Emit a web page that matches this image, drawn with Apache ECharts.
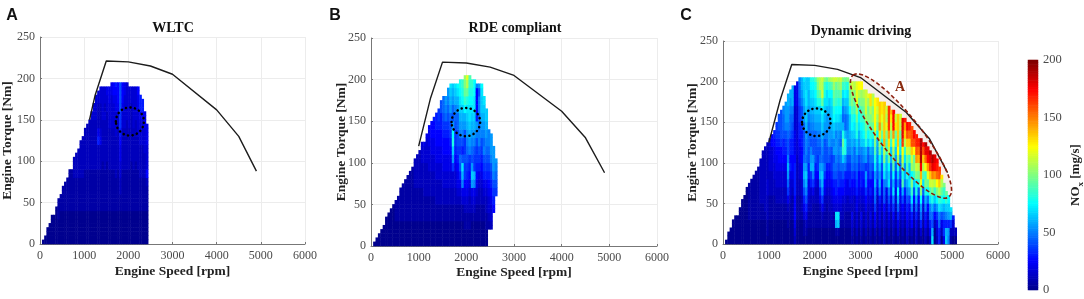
<!DOCTYPE html>
<html><head><meta charset="utf-8">
<style>html,body{margin:0;padding:0;background:#fff}#c{width:1084px;height:299px;filter:blur(.35px)}</style>
<script src="https://cdn.jsdelivr.net/npm/echarts@6/dist/echarts.min.js"></script></head>
<body><div id="c"></div>
<script>
// Level code of a cell: position in LEVELS x 5 mg/s. Each column string reads bottom-up in 10 Nm bands;
// the last character continues to the column top, "." is an empty band.
const LEVELS = "0123456789abcdefghijklmnopqrstuvwxyzABCD";
const rpmStep = 50, nmStep = 5;
const barLevels = [0,2,4,6,8,10,12,14,16,18,20,22,24,26,28,30,32,34,36,38,40,42,44,46,48,50,52,54,56,58,60,62,64,66,68,70,72,74,76,78,80,82,84,86,88,90,92,94,96,98,100,102,104,106,108,110,112,114,116,118,120,122,124,126,128,130,132,134,136,138,140,142,144,146,148,150,152,154,156,158,160,162,164,166,168,170,172,174,176,178,180,182,184,186,188,190,192,194,196,198,200];
const barColumns = [0,1,2,3,4];

const startA = 50;
const topsA = [5,10,20,25,35,35,45,55,60,70,75,80,90,90,105,110,115,125,130,140,145,150,160,170,180,185,190,190,190,190,190,195,195,195,195,195,195,195,195,190,190,190,190,190,180,175,160,145];
const colsA = ["0","0","0","0","0","00","000","0001","00001","000011","000011","0000111","00001111","00001111","000011112","0000111122","00001111222","000011112222","000011112222","0000111112222","00001111122222","000011111222222","0000111112222223","00001111122222233","000011111222222333","0000111112226422233","0000111112224322233","0000111111222223333","0000111112222223233","0000111111222222334","0000111112222233344","00001111122222333344","0000111112222233345","00001111222223334456","0000111112222233455","00001122334456778888","0000111112222233455","00001111122222333344","00001111122222233333","0000111112222233333","0000111111222222233","0000111112222233333","0000111111222223333","0000111112222333445","000011112222333466","00001111222233346","0000111122233344","00001112533344"];

const startB = 50;
const topsB = [5,10,15,20,25,35,40,45,50,55,60,70,75,80,85,90,95,105,110,115,125,125,135,145,150,155,160,165,175,180,180,190,195,195,195,195,200,200,205,205,205,200,200,195,195,195,180,165,140,135,120,105];
const colsB = ["0","0","0","0","0","00","00","000","000","0001","0001","00011","00011","000111","000111","0001111","0001111","00011112","00011112","000111122","000111122233","0001112222334","00011122223334","000111222333445","000111222334455","0001112223344556","0001122233445566","00011222334455677","000112223344556688","000112233445567899","0001122334455679ab","00011223344556789ab","0001122334456789bcde","0001122337bdgfb89bcd","0001122334567789acde","0001123445678899bcef","0001123468978abcdefg","0001134ace868abcdfgh","00112345778778bcfhjkl","001123456789abcdegjmo","00112234567abcdeefghi","0001234bdb89abcdefgh","0001234ac778abcdeeff","0001123456778ab6555a","000112234678aa99aa8b","0001122345678abcddef","00011234678a9abcde","001122346789abcd","..1233456789aa","..23345678ab","....5678abbb","......789ab"];

const startC = 50;
const topsC = [5,15,20,30,35,35,45,55,60,70,75,80,85,90,95,105,115,120,125,130,135,140,150,160,165,170,175,185,190,195,195,200,205,205,205,205,205,205,205,205,205,205,205,205,205,205,205,205,205,205,205,205,205,205,200,200,200,200,200,200,190,190,185,185,185,180,180,175,175,175,170,170,165,165,160,160,160,155,155,150,150,145,140,135,130,130,125,125,120,115,110,110,105,95,85,75,65,60,45,35,20];
const colsC = ["0","0","0","0","0","0","00","00","000","000","0001","00011","000111","000111","000111","0001122","0001122","00012222","0112223322","0001112223333","00011122233355","000111223344566","000112233445677","0001122334556788","000112233455788","0001122334566899a","00011223345678abb","00112479bca889abbcc","0001123346566899abc","0001112345566789acc","234555666654443334","0001112222233333344","00011122334456677899a","00012233445566788abcc","0113468acb98889bbcdde","012468acdb9aabcddeedd","001123446688999abccdd","001122367cba89abcdefg","00111247acb889abcdefg","00111224568889bcdefgi","0011122357789abcdgikl","00112469cb989abcdgjmm","001247acdb9abcdefjnmn","0011224579888abcdeghk","0011123456889abbceegjl","001122345689bbabcdfhlo","001223456778abcddefimp","00113456898bacdfgijlnp","01ce346689abbacefhijnp","01de3457789aabcefgikmo","0012345679ab9acdfhjlnp","0012235689dhjgc9acehkn","0011234569bgfc99bdfhjm","00112244678abbaacdegkn","00112346678abcddfijl","1234234579abcdfgikln","001122456899bdefhikm","1233446789acdghjlo","00112345578abcefgjmp","12342346689adefhiklp","0011234568abdfghjkmn","1233457ab7bcgijln","001123456789dfhkjlo","1234346589acfhjkmq","0011234568abdgjlkm","124579acbegikmp","0011224689abcfjlnq","123446acbdfjlqtr","0011234578bdgjmoq","2234589aegkmsr","0011234abcdhikomn","123468aedfjmqtx","0011346789cdhknqs","12357aecfikmptz","0011234679bdgjqns","13469cfadglpr","0012345689begjmn","123458cigknpxA","0012346acbehmrty","234568acgijnrwz","012347beddhmrvy","1256aehkflnrw","0012358dhkjpwzA","23469cgfkntwy","0012358gjmsvyB","1369bfkoszCC","0012369eimrwz","2356acgkhpvAC","012359fjotzAC","2469aeinrxAC","ec89cgknuACB","00259dhmtzA","2347bfkpvyz","669aehmrwx","0248dgjmqs","4769cfhkm","dc6adhjl","ab6bdfg","127cef","0236b","024",".4"];

const loadSpeedA = [1120,1250,1500,2000,2500,3000,4000,4500,4900];
const loadTorqueA = [150,180,221,220,215,205,162,130,88];
const loadSpeedB = [1000,1250,1500,2000,2500,3000,4000,4500,4900];
const loadTorqueB = [120,178,221,220,215,205,162,130,88];
const loadSpeedC = [1000,1250,1500,2000,2500,3000,4000,4500,4900];
const loadTorqueC = [125,178,221,220,215,205,162,130,88];

// [centre rpm, centre Nm, radius rpm, radius Nm]
const circleA = [2035,148,317,17];
const circleB = [1990,149,300,17];
const circleC = [2036,150,312,17];
// tips of the region A ellipse [rpm, Nm, rpm, Nm] and its width ratio
const regionA = [2836,208,4931,58,0.26];
const regionALabel = [3862,193,"A"];

const serif = '"Liberation Serif","Times New Roman",serif';
const bins = n => Array.from({length:n},(_,i)=>i);
const heat = (start,tops,cols) => {
  const out = [];
  cols.forEach((s,c)=>{
    const xi = (start + c*rpmStep)/rpmStep;
    for(let y=0; y<tops[c]; y+=nmStep){
      const ch = s[Math.min(Math.floor(y/10), s.length-1)];
      if(ch !== '.') out.push([xi, y/nmStep, LEVELS.indexOf(ch)*5]);
    }
  });
  return out;
};
const panels = [
 {name:'WLTC', letter:'A', lx:12, l:40, w:265, t:37, h:207, tx:173, ty:21, gy:25, ng:21, data:heat(startA,topsA,colsA), sp:loadSpeedA, tq:loadTorqueA, c:circleA},
 {name:'RDE compliant', letter:'B', lx:335, l:371, w:286, t:38, h:208, tx:515, ty:21, gy:22, ng:20, data:heat(startB,topsB,colsB), sp:loadSpeedB, tq:loadTorqueB, c:circleB},
 {name:'Dynamic driving', letter:'C', lx:686, l:723, w:275, t:41, h:203, tx:861, ty:24, gy:23, ng:21, data:heat(startC,topsC,colsC), sp:loadSpeedC, tq:loadTorqueC, c:circleC}
];
const noGroup = v => String(v);
const grid=[],xAxis=[],yAxis=[],series=[],title=[];
panels.forEach((p,i)=>{
  grid.push({left:p.l,top:p.t,width:p.w,height:p.h,outerBoundsMode:'none'});
  const lab={fontFamily:serif,fontSize:12,color:'#4a4a4a',formatter:noGroup};
  const nm={fontFamily:serif,fontSize:13.5,fontWeight:'bold',color:'#222'};
  const line={show:true,lineStyle:{color:'#777',width:1}};
  const split={show:true,lineStyle:{color:'#ececec',width:1}};
  xAxis.push({type:'value',gridIndex:i,min:0,max:6000,interval:1000,name:'Engine Speed [rpm]',nameLocation:'middle',nameGap:p.ng,nameMoveOverlap:false,nameTextStyle:nm,
    axisLabel:Object.assign({margin:6},lab),axisLine:line,axisTick:{show:true,inside:true,length:2,lineStyle:{color:'#777'}},splitLine:split});
  yAxis.push({type:'value',gridIndex:i,min:0,max:250,interval:50,name:'Engine Torque [Nm]',nameLocation:'middle',nameGap:p.gy,nameMoveOverlap:false,nameTextStyle:nm,
    axisLabel:Object.assign({margin:5},lab),axisLine:line,axisTick:{show:true,inside:true,length:2,lineStyle:{color:'#777'}},splitLine:split});
  xAxis.push({type:'category',gridIndex:i,show:false,data:bins(120),boundaryGap:true});
  yAxis.push({type:'category',gridIndex:i,show:false,data:bins(50),boundaryGap:true});
  title.push({text:p.name,left:p.tx,top:p.ty,textAlign:'center',padding:0,textStyle:{fontFamily:serif,fontSize:14,fontWeight:'bold',color:'#111'}});
  title.push({text:p.letter,left:p.lx,top:8,textAlign:'center',padding:0,textStyle:{fontFamily:'"Liberation Sans",Arial,sans-serif',fontSize:16,fontWeight:'bold',color:'#111'}});
});
panels.forEach((p,i)=>{
  series.push({type:'heatmap',xAxisIndex:2*i+1,yAxisIndex:2*i+1,data:p.data,z:2,progressive:0,silent:true,emphasis:{disabled:true}});
});
// colour bar: its own grid, a heatmap of the scale plus a value axis for the labels
grid.push({left:1028,top:60,width:10,height:230,outerBoundsMode:'none'});
xAxis.push({type:'value',gridIndex:3,show:false,min:0,max:1});
yAxis.push({type:'value',gridIndex:3,position:'right',min:0,max:200,interval:50,
  name:'NO{s|x} [mg/s]',nameLocation:'middle',nameGap:29,nameMoveOverlap:false,nameRotate:90,
  nameTextStyle:{fontFamily:serif,fontSize:13,fontWeight:'bold',color:'#222',rich:{s:{fontFamily:serif,fontSize:9,fontWeight:'bold',color:'#222',verticalAlign:'bottom',lineHeight:18}}},
  axisLabel:{fontFamily:serif,fontSize:12.5,color:'#4a4a4a',margin:5,align:'left',formatter:noGroup},axisLine:{show:false},axisTick:{show:false},splitLine:{show:false}});
xAxis.push({type:'category',gridIndex:3,show:false,data:barColumns,boundaryGap:true});
yAxis.push({type:'category',gridIndex:3,show:false,data:barLevels,boundaryGap:true});
const barCells=[];
barColumns.forEach(c=>barLevels.forEach((v,k)=>barCells.push([c,k,v])));
series.push({type:'heatmap',xAxisIndex:7,yAxisIndex:7,data:barCells,z:2,progressive:0,silent:true,emphasis:{disabled:true}});

panels.forEach((p,i)=>{
  series.push({type:'line',xAxisIndex:2*i,yAxisIndex:2*i,data:p.sp.map((s,k)=>[s,p.tq[k]]),symbol:'none',z:4,silent:true,lineStyle:{color:'#1c1c1c',width:1.4}});
  series.push({type:'custom',xAxisIndex:2*i,yAxisIndex:2*i,z:5,silent:true,data:[p.c],renderItem:(params,api)=>{
    const cen=api.coord([api.value(0),api.value(1)]), s=api.size([api.value(2),api.value(3)]);
    return {type:'ellipse',shape:{cx:cen[0],cy:cen[1],rx:s[0],ry:s[1]},style:{fill:null,stroke:'#000',lineWidth:2.5,lineDash:[0.1,4.4],lineCap:'round'}};
  }});
});
const ellipseItem=(api,style)=>{
  const a=api.coord([api.value(0),api.value(1)]), b=api.coord([api.value(2),api.value(3)]);
  const cx=(a[0]+b[0])/2, cy=(a[1]+b[1])/2, dx=b[0]-a[0], dy=b[1]-a[1], L=Math.hypot(dx,dy)/2;
  return {type:'ellipse',shape:{cx,cy,rx:L,ry:L*api.value(4)},originX:cx,originY:cy,rotation:-Math.atan2(dy,dx),style};
};
series.push({type:'custom',xAxisIndex:4,yAxisIndex:4,z:1,silent:true,data:[regionA],renderItem:(p,api)=>ellipseItem(api,{fill:'rgba(170,110,80,0.12)',stroke:null})});
series.push({type:'custom',xAxisIndex:4,yAxisIndex:4,z:6,silent:true,data:[regionA],renderItem:(p,api)=>ellipseItem(api,{fill:null,stroke:'#8a1c0c',lineWidth:1.6,lineDash:[4,2.5]})});
series.push({type:'custom',xAxisIndex:4,yAxisIndex:4,z:6,silent:true,data:[regionALabel],renderItem:(p,api)=>{
  const c=api.coord([api.value(0),api.value(1)]);
  return {type:'text',x:c[0],y:c[1],style:{text:regionALabel[2],fill:'#8a2c10',font:'bold 14px '+serif,textAlign:'center',textVerticalAlign:'middle'}};
}});

const chart=echarts.init(document.getElementById('c'));
chart.setOption({animation:false,backgroundColor:'#fff',title,grid,xAxis,yAxis,series,tooltip:{show:false},
 visualMap:{type:'continuous',show:false,min:0,max:200,seriesIndex:[0,1,2,3],
  inRange:{color:['#00008f','#0000ff','#0080ff','#00ffff','#80ff80','#ffff00','#ff8000','#ff0000','#800000']}}});
</script></body></html>
